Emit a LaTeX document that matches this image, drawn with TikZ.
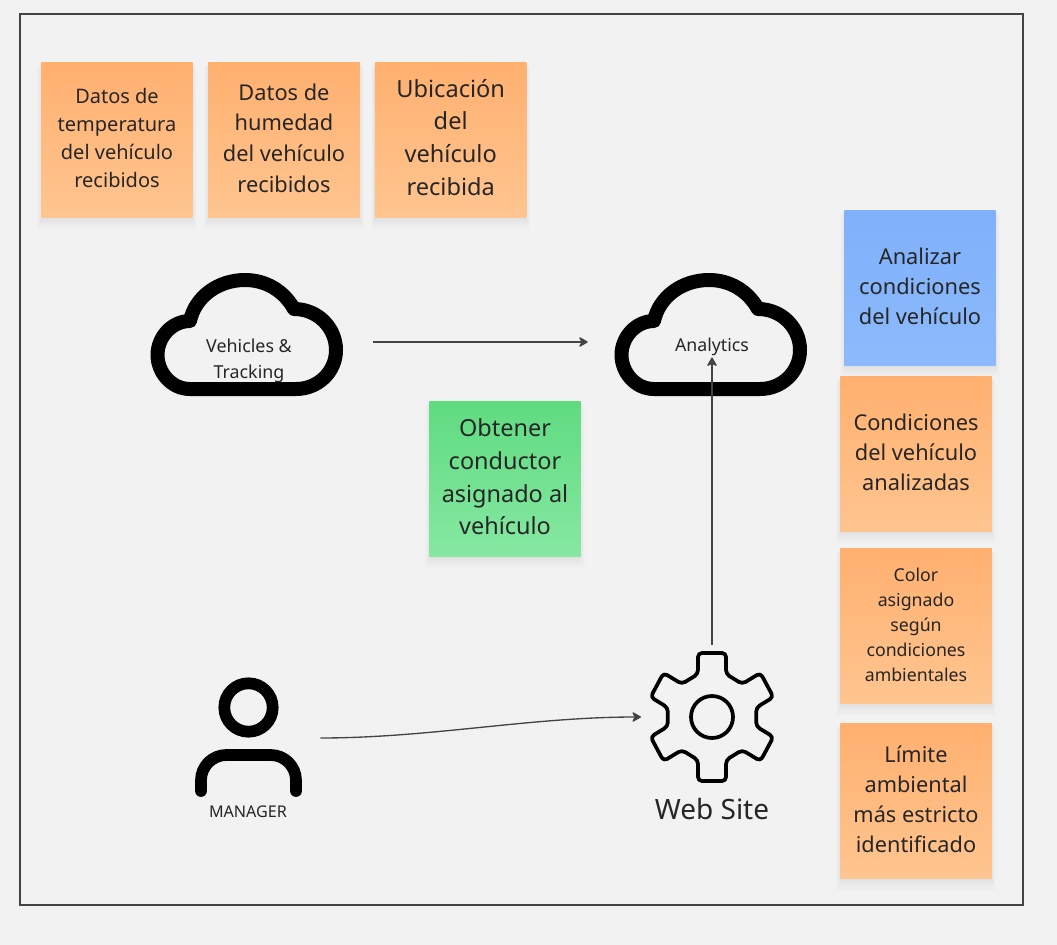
\documentclass[tikz,border=0pt]{standalone}
\usepackage{fontspec}
\setmainfont{Noto Sans}
\usetikzlibrary{shadows,arrows.meta}
\definecolor{pagebg}{HTML}{F2F2F2}
\definecolor{framec}{HTML}{444444}
\definecolor{inkc}{HTML}{262626}
\definecolor{linec}{HTML}{444444}
\definecolor{orangeA}{HTML}{FFB06F}
\definecolor{orangeB}{HTML}{FFC590}
\definecolor{blueA}{HTML}{7FB0FA}
\definecolor{blueB}{HTML}{8CBAFC}
\definecolor{greenA}{HTML}{5FDB80}
\definecolor{greenB}{HTML}{86E8A2}
\newcommand{\pxfont}[2]{\fontsize{#1pt}{#2pt}\selectfont}
\tikzset{
  softshadow/.style={
    general shadow={shadow yshift=-6pt,shadow scale=1.05,fill=black,opacity=.008},
    general shadow={shadow yshift=-5pt,shadow scale=1.04,fill=black,opacity=.010},
    general shadow={shadow yshift=-4pt,shadow scale=1.03,fill=black,opacity=.012},
    general shadow={shadow yshift=-3pt,shadow scale=1.02,fill=black,opacity=.012},
    general shadow={shadow yshift=-2pt,shadow scale=1.01,fill=black,opacity=.012},
    general shadow={shadow yshift=-1pt,fill=black,opacity=.012}},
  sticky/.style={rectangle,inner sep=0pt,minimum width=113.6pt,minimum height=116.5pt,softshadow},
  orange/.style={sticky,top color=orangeA,bottom color=orangeB},
  blue/.style={sticky,top color=blueA,bottom color=blueB},
  green/.style={sticky,top color=greenA,bottom color=greenB},
  stickytext/.style={inner sep=0pt,align=center,text=inkc},
  icontext/.style={inner sep=0pt,align=center,text=inkc},
  iconbox/.style={inner sep=0pt,draw=none,fill=none},
  iconline/.style={draw=black,line width=10.5pt,line join=round,line cap=round},
  personline/.style={draw=black,line width=8.8pt,line join=round,line cap=round},
  gearline/.style={draw=black,line width=2.8pt,line join=round},
  conn/.style={draw=linec,line width=1pt,-{Stealth[length=7.5pt,width=8.5pt,inset=2.2pt,round]}},
}
\begin{document}
\begin{tikzpicture}[x=0.75pt,y=-0.75pt]
\useasboundingbox (0,0) rectangle (1057,945);
\fill[pagebg] (0,0) rectangle (1057,945);
\draw[framec,line width=1.3pt] (20,14) rectangle (1023,905);

% stickies
\node[orange] (s1) at (117,140) {};
\node[orange] (s2) at (284,140) {};
\node[orange] (s3) at (450.7,140) {};
\node[blue] (s4) at (920,288) {};
\node[green] (s5) at (505,479) {};
\node[orange] (s6) at (916,454) {};
\node[orange] (s7) at (916,626) {};
\node[orange] (s8) at (916,801) {};
\node[stickytext,font=\pxfont{15}{21}] (t1) at (117,138.4) {Datos de\\temperatura\\del vehículo\\recibidos};
\node[stickytext,font=\pxfont{16.35}{23}] (t2) at (284,138) {Datos de\\humedad\\del vehículo\\recibidos};
\node[stickytext,font=\pxfont{17.7}{24.5}] (t3) at (450.7,137.2) {Ubicación\\del\\vehículo\\recibida};
\node[stickytext,font=\pxfont{16.35}{22.5}] (t4) at (920,286) {Analizar\\condiciones\\del vehículo};
\node[stickytext,font=\pxfont{17.6}{24.5}] (t5) at (505,477) {Obtener\\conductor\\asignado al\\vehículo};
\node[stickytext,font=\pxfont{16.35}{22.5}] (t6) at (916,452) {Condiciones\\del vehículo\\analizadas};
\node[stickytext,font=\pxfont{13.3}{18.8}] (t7) at (916,625) {Color\\asignado\\según\\condiciones\\ambientales};
\node[stickytext,font=\pxfont{16.3}{22.5}] (t8) at (916,799) {Límite\\ambiental\\más estricto\\identificado};

% clouds
\draw[iconline] (190,321) .. controls (195,297) and (218,280) .. (245,280)
  .. controls (266,280) and (284,291) .. (294,309)
  .. controls (318,309) and (336,328) .. (336,350)
  .. controls (336,372) and (318,389) .. (296,389) -- (190,389)
  .. controls (171,389) and (157.5,372) .. (157.5,355)
  .. controls (157.5,337) and (172,321) .. (190,321) -- cycle;
\begin{scope}[xshift=348pt]
\draw[iconline] (190,321) .. controls (195,297) and (218,280) .. (245,280)
  .. controls (266,280) and (284,291) .. (294,309)
  .. controls (318,309) and (336,328) .. (336,350)
  .. controls (336,372) and (318,389) .. (296,389) -- (190,389)
  .. controls (171,389) and (157.5,372) .. (157.5,355)
  .. controls (157.5,337) and (172,321) .. (190,321) -- cycle;
\end{scope}
\node[iconbox,minimum width=189pt,minimum height=10pt] (cloudA) at (247,342) {};
\node[iconbox,minimum width=186pt,minimum height=10pt] (cloudB) at (712,342) {};
\node[icontext,font=\pxfont{13.4}{20}] (lblA) at (249,361) {Vehicles \&\\Tracking};
\node[icontext,inner ysep=1pt,font=\pxfont{13.3}{16}] (lblB) at (712,347) {Analytics};

% gear
\draw[gearline,rounded corners=3pt] (698,653) -- (726,653) -- (726,674) -- (742.2,684) -- (760.4,672.9) -- (773.4,697.1) -- (756.2,707.6)
 -- (756.2,726.4) -- (773.4,736.9) -- (760.4,761.1) -- (742.2,750) -- (726,760) -- (726,781) -- (698,781) -- (698,760)
 -- (681.8,750) -- (663.6,761.1) -- (650.6,736.9) -- (667.8,726.4) -- (667.8,707.6) -- (650.6,697.1) -- (663.6,672.9)
 -- (681.8,684) -- (698,674) -- cycle;
\draw[gearline] (712,717) circle[radius=21];
\node[iconbox,minimum width=53pt,minimum height=54pt] (gear) at (712,681) {};
\node[iconbox,minimum width=53pt,minimum height=10pt] (gearW) at (676.5,717) {};
\node[icontext,font=\pxfont{21}{26}] (lblW) at (712,809) {Web Site};

% person
\draw[personline] (248.5,707.5) circle[radius=24.2];
\draw[personline,rounded corners=19pt] (201,791) -- (201,755) -- (296,755) -- (296,791);
\node[iconbox,minimum width=54pt,minimum height=10pt] (person) at (284,738) {};
\node[icontext,font=\pxfont{12.1}{15}] (lblM) at (248,812) {MANAGER};

% connectors
\draw[conn] (cloudA.east) -- (cloudB.west);
\draw[conn] (gear.north) -- (lblB.south);
\draw[conn] (person.east) .. controls (430,738) and (530,717) .. (gearW.west);
\end{tikzpicture}
\end{document}
